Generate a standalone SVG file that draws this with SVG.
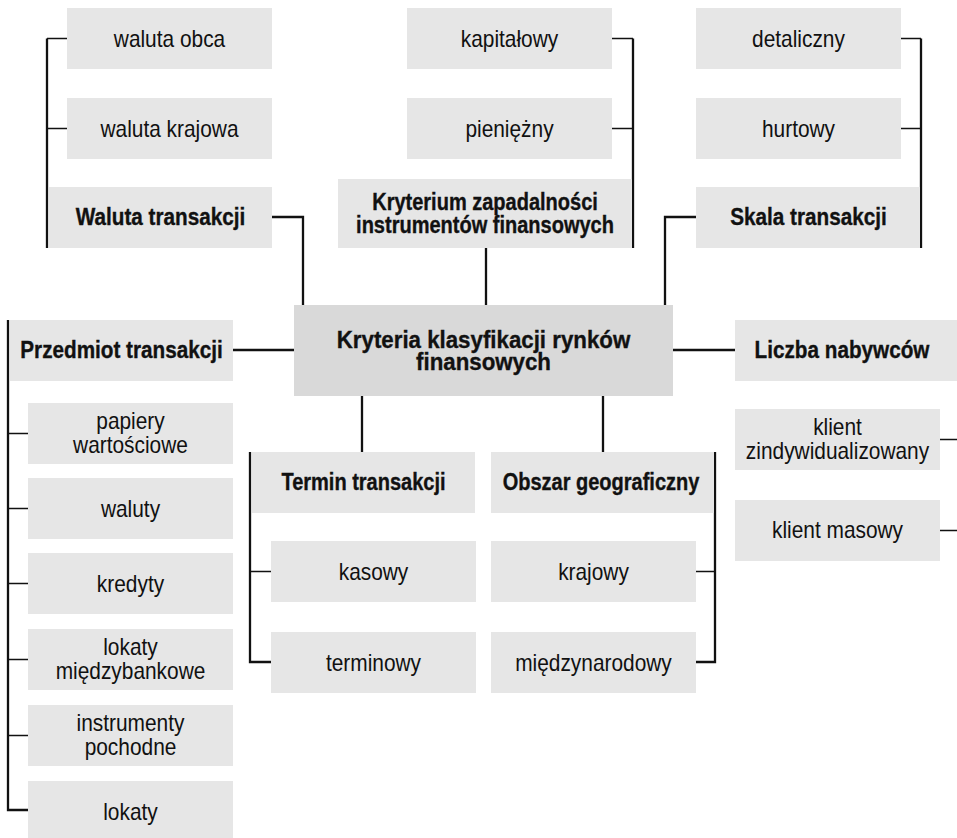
<svg xmlns="http://www.w3.org/2000/svg" width="957" height="838" viewBox="0 0 957 838">
<style>
.b{fill:#e6e6e6}
.c{fill:#d9d9d9}
text{font-family:"Liberation Sans",Arial,sans-serif;fill:#111;text-anchor:middle}
.r{font-size:24px}
.h{font-size:23px;font-weight:bold;stroke:#111;stroke-width:0.35}
.m{font-size:24.5px;font-weight:bold;stroke:#111;stroke-width:0.35}
.l{fill:none;stroke:#111;stroke-width:2.3}
.t{fill:none;stroke:#111;stroke-width:1.4}
</style>
<rect width="957" height="838" fill="#fff"/>
<g id="connectors">
<path class="l" d="M47,38.5V248M633,38.5V248M921,38.5V248M272,217H303V305M486,248V305M696,217H665V305M233,350H294M673,350H735M8,320V810H28M362,396V452M603,396V452M250,452V662H271M715,452V662H696"/>
<path class="t" d="M47,38.5H67M47,128.5H67M612,38.5H633M612,128.5H633M901,38.5H921M901,128.5H921M8,433.5H28M8,508.5H28M8,583.5H28M8,659.5H28M8,735.5H28M250,571.5H271M696,571.5H715M940,439.5H957M940,530.5H957"/>
</g>
<g id="n1"><rect class="b" x="67" y="8" width="205" height="61"/><text class="r" transform="matrix(.87 0 0 1 169.5 0)" y="47">waluta obca</text></g>
<g id="n2"><rect class="b" x="67" y="98" width="205" height="61"/><text class="r" transform="matrix(.87 0 0 1 169.5 0)" y="137">waluta krajowa</text></g>
<g id="n3"><rect class="b" x="49" y="187" width="223" height="61"/><text class="h" transform="matrix(.9 0 0 1 160.5 0)" y="225">Waluta transakcji</text></g>
<g id="n4"><rect class="b" x="407" y="8" width="205" height="61"/><text class="r" transform="matrix(.87 0 0 1 509.5 0)" y="47">kapitałowy</text></g>
<g id="n5"><rect class="b" x="407" y="98" width="205" height="61"/><text class="r" transform="matrix(.87 0 0 1 509.5 0)" y="137">pieniężny</text></g>
<g id="n6"><rect class="b" x="338" y="179" width="294" height="69"/><text class="h" transform="matrix(.87 0 0 1 485 0)" y="210">Kryterium zapadalności</text><text class="h" transform="matrix(.87 0 0 1 485 0)" y="233">instrumentów finansowych</text></g>
<g id="n7"><rect class="b" x="696" y="8" width="205" height="61"/><text class="r" transform="matrix(.87 0 0 1 798.5 0)" y="47">detaliczny</text></g>
<g id="n8"><rect class="b" x="696" y="98" width="205" height="61"/><text class="r" transform="matrix(.87 0 0 1 798.5 0)" y="137">hurtowy</text></g>
<g id="n9"><rect class="b" x="696" y="187" width="224" height="61"/><text class="h" transform="matrix(.9 0 0 1 808.5 0)" y="225">Skala transakcji</text></g>
<g id="n10"><rect class="c" x="294" y="305" width="379" height="91"/><text class="m" transform="matrix(.91 0 0 1 483.5 0)" y="348">Kryteria klasyfikacji rynków</text><text class="m" transform="matrix(.91 0 0 1 483.5 0)" y="370">finansowych</text></g>
<g id="n11"><rect class="b" x="10" y="320" width="223" height="61"/><text class="h" transform="matrix(.9 0 0 1 121.5 0)" y="358">Przedmiot transakcji</text></g>
<g id="n12"><rect class="b" x="28" y="403" width="205" height="61"/><text class="r" transform="matrix(.87 0 0 1 130.5 0)" y="429">papiery</text><text class="r" transform="matrix(.87 0 0 1 130.5 0)" y="453">wartościowe</text></g>
<g id="n13"><rect class="b" x="28" y="478" width="205" height="61"/><text class="r" transform="matrix(.87 0 0 1 130.5 0)" y="517">waluty</text></g>
<g id="n14"><rect class="b" x="28" y="553" width="205" height="61"/><text class="r" transform="matrix(.87 0 0 1 130.5 0)" y="592">kredyty</text></g>
<g id="n15"><rect class="b" x="28" y="629" width="205" height="61"/><text class="r" transform="matrix(.87 0 0 1 130.5 0)" y="655">lokaty</text><text class="r" transform="matrix(.87 0 0 1 130.5 0)" y="679">międzybankowe</text></g>
<g id="n16"><rect class="b" x="28" y="705" width="205" height="61"/><text class="r" transform="matrix(.87 0 0 1 130.5 0)" y="731">instrumenty</text><text class="r" transform="matrix(.87 0 0 1 130.5 0)" y="755">pochodne</text></g>
<g id="n17"><rect class="b" x="28" y="781" width="205" height="61"/><text class="r" transform="matrix(.87 0 0 1 130.5 0)" y="820">lokaty</text></g>
<g id="n18"><rect class="b" x="252" y="452" width="223" height="61"/><text class="h" transform="matrix(.87 0 0 1 363.5 0)" y="490">Termin transakcji</text></g>
<g id="n19"><rect class="b" x="271" y="541" width="205" height="61"/><text class="r" transform="matrix(.87 0 0 1 373.5 0)" y="580">kasowy</text></g>
<g id="n20"><rect class="b" x="271" y="632" width="205" height="61"/><text class="r" transform="matrix(.87 0 0 1 373.5 0)" y="671">terminowy</text></g>
<g id="n21"><rect class="b" x="491" y="452" width="223" height="61"/><text class="h" transform="matrix(.87 0 0 1 601 0)" y="490">Obszar geograficzny</text></g>
<g id="n22"><rect class="b" x="491" y="541" width="205" height="61"/><text class="r" transform="matrix(.87 0 0 1 593.5 0)" y="580">krajowy</text></g>
<g id="n23"><rect class="b" x="491" y="632" width="205" height="61"/><text class="r" transform="matrix(.87 0 0 1 593.5 0)" y="671">międzynarodowy</text></g>
<g id="n24"><rect class="b" x="735" y="320" width="223" height="61"/><text class="h" transform="matrix(.9 0 0 1 842 0)" y="358">Liczba nabywców</text></g>
<g id="n25"><rect class="b" x="735" y="409" width="205" height="61"/><text class="r" transform="matrix(.87 0 0 1 837.5 0)" y="435">klient</text><text class="r" transform="matrix(.87 0 0 1 837.5 0)" y="459">zindywidualizowany</text></g>
<g id="n26"><rect class="b" x="735" y="500" width="205" height="61"/><text class="r" transform="matrix(.87 0 0 1 837.5 0)" y="538">klient masowy</text></g>
</svg>
